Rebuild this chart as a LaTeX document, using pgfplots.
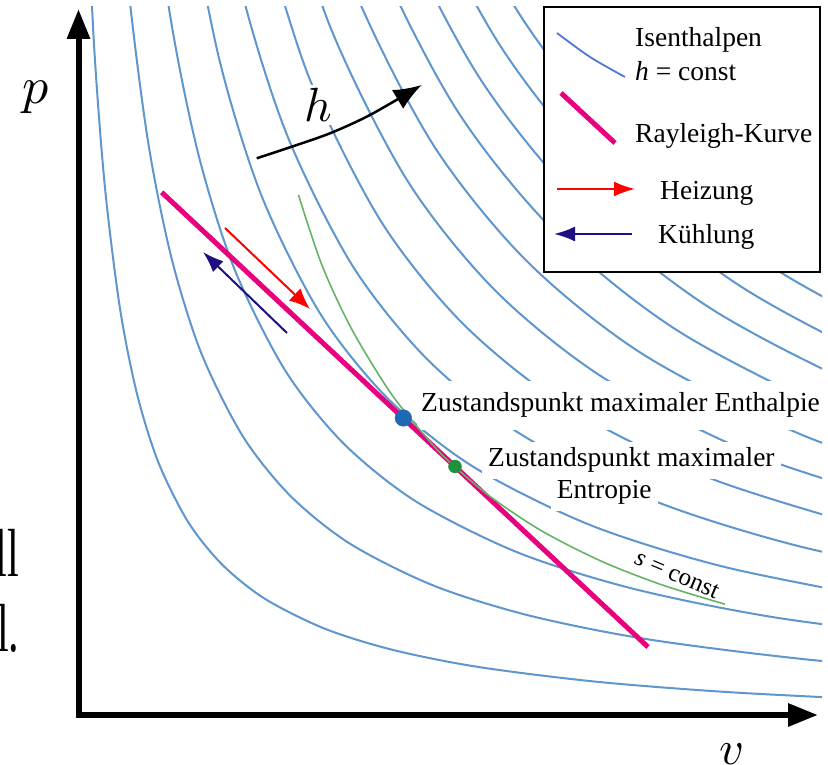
\documentclass[border=0pt]{standalone}
\usepackage{fontspec}
\setmainfont{Liberation Serif}
\usepackage{pgfplots}
\pgfplotsset{compat=1.18}
\usetikzlibrary{arrows.meta}
\definecolor{isoblue}{RGB}{95,150,205}
\definecolor{rpink}{RGB}{232,0,126}
\definecolor{sgreen}{RGB}{100,180,100}
\definecolor{dotblue}{RGB}{31,105,180}
\definecolor{dotgreen}{RGB}{30,145,60}
\definecolor{navy}{RGB}{30,15,130}
\newcommand\lbl{\fontsize{27.5}{33}\selectfont}
\begin{document}
\begin{tikzpicture}
\useasboundingbox (0,0) rectangle (828pt,765pt);
\fill[white] (0,0) rectangle (828pt,765pt);
\clip (0,0) rectangle (828pt,765pt);
\begin{axis}[x=1pt,y=1pt,xmin=0,xmax=822,ymin=0,ymax=758,
  hide axis, clip mode=individual, enlargelimits=false,
  anchor=south west, at={(0,0)},
  iso/.style={isoblue, line width=2pt, smooth, no marks}]
% isenthalps
\addplot[iso] coordinates {(86.06,881.45) (94.57,711.16) (105.22,574.93) (120.12,455.73) (137.15,370.58) (158.43,302.46) (188.23,242.86) (222.29,200.29) (264.86,166.23) (324.46,136.43) (392.58,115.15) (477.73,98.12) (596.93,83.22) (733.16,72.57) (903.45,64.06)};
\addplot[iso] coordinates {(111.69,985) (126.61,794) (147.50,626.88) (171.38,507.50) (201.22,412.00) (243.00,328.44) (290.75,268.75) (350.44,221.00) (434.00,179.22) (529.50,149.38) (648.88,125.50) (816.00,104.61) (1007.00,89.69)};
\addplot[iso] coordinates {(143.11,962.96) (168.62,758.88) (197.78,613.10) (234.22,496.48) (285.24,394.44) (343.55,321.55) (416.44,263.24) (518.48,212.22) (635.10,175.78) (780.88,146.62) (984.96,121.11)};
\addplot[iso] coordinates {(186.46,870.38) (220.08,702.30) (262.09,567.84) (320.92,450.19) (388.15,366.15) (472.19,298.92) (589.84,240.09) (724.30,198.08) (892.38,164.46)};
\addplot[iso] coordinates {(202.20,968.75) (239.75,781.00) (286.69,630.80) (352.40,499.38) (427.50,405.50) (521.38,330.40) (652.80,264.69) (803.00,217.75) (990.75,180.20)};
\addplot[iso] coordinates {(257.55,852.20) (308.94,687.76) (380.88,543.88) (463.10,441.10) (565.88,358.88) (709.76,286.94) (874.20,235.55)};
\addplot[iso] coordinates {(273.93,917.70) (329.41,740.16) (407.08,584.81) (495.85,473.85) (606.81,385.08) (762.16,307.41) (939.70,251.93)};
\addplot[iso] coordinates {(289.17,978.68) (348.46,788.94) (431.47,622.93) (526.34,504.34) (644.93,409.47) (810.94,326.46) (1000.68,267.17)};
\addplot[iso] coordinates {(303.50,1035.98) (366.37,834.78) (454.39,658.74) (554.99,532.99) (680.74,432.39) (856.78,344.37) (1057.98,281.50)};
\addplot[iso] coordinates {(317.05,1090.18) (383.31,878.14) (476.07,692.61) (582.09,560.09) (714.61,454.07) (900.14,361.31) (1112.18,295.05)};
\addplot[iso] coordinates {(329.94,1141.76) (399.43,919.41) (496.70,724.85) (607.88,585.88) (746.85,474.70) (941.41,377.43) (1163.76,307.94)};
\addplot[iso] coordinates {(342.26,1191.04) (414.83,958.83) (516.42,755.65) (632.52,610.52) (777.65,494.42) (980.83,392.83) (1213.04,320.26)};
% white label backgrounds
\node[anchor=base west, fill=white, inner xsep=4pt, inner ysep=12pt, font=\lbl] at (axis cs:417,353) {Zustandspunkt maximaler Enthalpie};
\node[anchor=base west, fill=white, inner sep=6pt, font=\lbl] at (axis cs:482,298) {Zustandspunkt maximaler};
\node[anchor=base west, fill=white, inner sep=6pt, font=\lbl] at (axis cs:550.7,266) {Entropie};
\node[fill=white, inner sep=0.6pt, scale=4.8] at (axis cs:318,660) {$h$};
% Rayleigh line and isentrope
\addplot[rpink, line width=5pt, no marks] coordinates {(161.7,572.7) (648,118)};
\addplot[sgreen, line width=1.6pt, smooth, no marks] coordinates {(298.5,570) (322,499.7) (352,435.3) (392,370.1) (432,321.1) (455,298.1) (492,267.1) (542,233.9) (602,203.5) (662,180.1) (725,160.8)};
\addplot[only marks, mark=*, mark size=8.3pt, color=dotblue] coordinates {(403.3,347)};
\addplot[only marks, mark=*, mark size=6.5pt, color=dotgreen] coordinates {(455,298.5)};
% heating / cooling arrows
\addplot[red, line width=2pt, no marks, -{Latex[length=21pt,width=17pt]}] coordinates {(225,537) (310,456)};
\addplot[navy, line width=2pt, no marks, -{Latex[length=21pt,width=15pt]}] coordinates {(287,432) (203,513)};
% h arrow
\addplot[black, line width=2.5pt, smooth, no marks, -{Latex[length=28pt,width=22pt]}] coordinates {(256.7,606.7) (290,617.7) (330,631.7) (370,650) (421.7,680)};
% axes
\addplot[black, line width=6pt, no marks, -{Triangle[length=30pt,width=22pt]}] coordinates {(78.5,47) (78.5,756)};
\addplot[black, line width=6pt, no marks, -{Triangle[length=30pt,width=22pt]}] coordinates {(75.5,50) (818,50)};
% legend box
\draw[black, line width=2pt, fill=white] (axis cs:544,758) rectangle (axis cs:820,493);
\addplot[isoblue!80!blue, line width=1.8pt, smooth, no marks] coordinates {(557,732) (590,708) (625,688)};
\addplot[rpink, line width=5pt, no marks] coordinates {(561,672) (615,622)};
\addplot[red, line width=2pt, no marks, -{Latex[length=21pt,width=15pt]}] coordinates {(557,576) (635,576)};
\addplot[navy, line width=2pt, no marks, -{Latex[length=21pt,width=15pt]}] coordinates {(632,531) (554,531)};
\node[anchor=base west, inner sep=0pt, font=\lbl] at (axis cs:635,718) {Isenthalpen};
\node[anchor=base west, inner sep=0pt, font=\lbl] at (axis cs:635,684) {\textit{h} = const};
\node[anchor=base west, inner sep=0pt, font=\lbl] at (axis cs:635,622) {Rayleigh-Kurve};
\node[anchor=base west, inner sep=0pt, font=\lbl] at (axis cs:660,565) {Heizung};
\node[anchor=base west, inner sep=0pt, font=\lbl] at (axis cs:658,521) {Kühlung};
% other labels
\node[rotate=-23, inner sep=0pt, font=\fontsize{25}{30}\selectfont] at (axis cs:677,190) {\textit{s} = const};
\node[inner sep=0pt, scale=5.2] at (axis cs:35.8,667.5) {$p$};
\node[inner sep=0pt, scale=4.8] at (axis cs:731.7,11.3) {$v$};
\node[anchor=base east, inner sep=0pt, xscale=0.62, font=\fontsize{68}{80}\selectfont] at (axis cs:19.2,188) {ll};
\node[anchor=base east, inner sep=0pt, xscale=0.62, font=\fontsize{68}{80}\selectfont] at (axis cs:19.6,113) {l.};
\end{axis}
\end{tikzpicture}
\end{document}
